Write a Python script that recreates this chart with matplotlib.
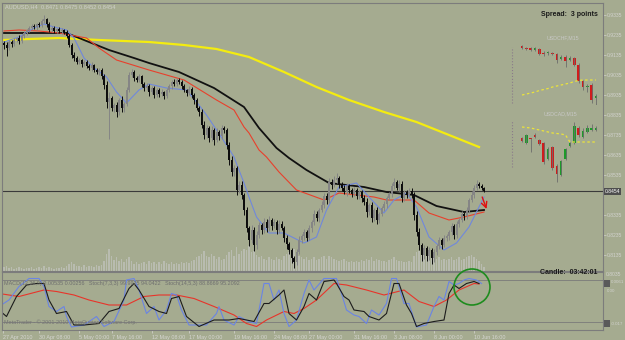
import numpy as np
import matplotlib.pyplot as plt
from matplotlib.patches import Ellipse, Rectangle

plt.rcParams["font.family"] = ["Liberation Sans", "DejaVu Sans"]

W, H = 625, 340
BG = "#a5ab90"

# ---- AUDUSD H4 candles (close per bar, wicks in pips) ----
first_open = 0.9195
closes = [
    0.9185, 0.9170, 0.9200, 0.9190, 0.9210, 0.9220, 0.9205, 0.9230, 0.9245, 0.9260,
    0.9270, 0.9280, 0.9275, 0.9290, 0.9285, 0.9305, 0.9315, 0.9290, 0.9260, 0.9270,
    0.9255, 0.9265, 0.9255, 0.9260, 0.9250, 0.9230, 0.9185, 0.9135, 0.9120, 0.9100,
    0.9110, 0.9090, 0.9100, 0.9080, 0.9070, 0.9085, 0.9060, 0.9050, 0.9060, 0.9030,
    0.8985, 0.8900, 0.8920, 0.8870, 0.8885, 0.8850, 0.8910, 0.8870, 0.8890, 0.8960,
    0.9035, 0.9050, 0.9020, 0.9010, 0.9030, 0.8990, 0.8970, 0.8980, 0.8950, 0.8970,
    0.8935, 0.8960, 0.8940, 0.8950, 0.8930, 0.8960, 0.8980, 0.9000, 0.8990, 0.9010,
    0.9000, 0.8980, 0.8960, 0.8945, 0.8965, 0.8935, 0.8910, 0.8870, 0.8850, 0.8785,
    0.8735, 0.8770, 0.8720, 0.8760, 0.8710, 0.8750, 0.8730, 0.8770, 0.8760, 0.8685,
    0.8610, 0.8550, 0.8570, 0.8460, 0.8485, 0.8435, 0.8360, 0.8270, 0.8210, 0.8260,
    0.8185, 0.8235, 0.8285, 0.8260, 0.8300, 0.8270, 0.8310, 0.8280, 0.8300, 0.8260,
    0.8290, 0.8270, 0.8220, 0.8190, 0.8160, 0.8120, 0.8100, 0.8150, 0.8210, 0.8230,
    0.8250, 0.8220, 0.8270, 0.8300, 0.8340, 0.8320, 0.8360, 0.8385, 0.8430, 0.8410,
    0.8500, 0.8485, 0.8510, 0.8520, 0.8490, 0.8470, 0.8450, 0.8480, 0.8460, 0.8440,
    0.8460, 0.8430, 0.8450, 0.8420, 0.8400, 0.8350, 0.8385, 0.8320, 0.8360, 0.8310,
    0.8340, 0.8370, 0.8390, 0.8420, 0.8440, 0.8480, 0.8500, 0.8470, 0.8490, 0.8420,
    0.8450, 0.8435, 0.8455, 0.8440, 0.8335, 0.8250, 0.8185, 0.8135, 0.8170, 0.8130,
    0.8160, 0.8120, 0.8150, 0.8180, 0.8210, 0.8185, 0.8220, 0.8230, 0.8250, 0.8280,
    0.8235, 0.8290, 0.8310, 0.8340, 0.8330, 0.8360, 0.8410, 0.8435, 0.8470, 0.8490,
    0.8480, 0.8471, 0.8454,
]
upper_wick = [
    10, 15, 8, 12, 10, 6, 14, 8, 10, 6,
    12, 8, 10, 6, 12, 10, 20, 6, 10, 8,
    12, 6, 10, 8, 6, 12, 8, 10, 14, 8,
    10, 6, 12, 8, 10, 14, 6, 10, 12, 8,
    10, 20, 30, 8, 12, 16, 10, 20, 8, 14,
    16, 14, 10, 8, 12, 6, 10, 14, 8, 12,
    10, 8, 12, 14, 6, 10, 12, 8, 14, 10,
    8, 12, 10, 6, 14, 8, 10, 12, 8, 14,
    20, 16, 10, 22, 12, 18, 10, 14, 12, 8,
    14, 20, 16, 12, 22, 18, 10, 16, 12, 24,
    14, 20, 16, 12, 18, 14, 22, 10, 16, 12,
    18, 14, 10, 16, 12, 8, 10, 14, 20, 12,
    14, 10, 16, 12, 20, 14, 10, 18, 16, 14,
    20, 14, 18, 24, 10, 12, 16, 14, 10, 12,
    14, 10, 12, 8, 14, 18, 10, 16, 12, 14,
    10, 12, 14, 8, 12, 16, 22, 10, 18, 14,
    12, 10, 14, 16, 10, 18, 20, 12, 14, 10,
    16, 12, 14, 10, 16, 12, 14, 10, 12, 16,
    10, 14, 12, 16, 10, 14, 12, 18, 16, 20,
    12, 10, 4,
]
lower_wick = [
    20, 40, 10, 14, 12, 10, 16, 8, 12, 10,
    8, 12, 10, 14, 8, 10, 12, 14, 10, 12,
    8, 12, 10, 14, 8, 10, 12, 14, 16, 10,
    12, 14, 10, 12, 8, 14, 10, 12, 14, 16,
    20, 30, 185, 16, 20, 24, 14, 18, 20, 12,
    10, 12, 14, 10, 12, 16, 14, 10, 18, 12,
    16, 12, 14, 10, 16, 12, 10, 14, 12, 10,
    12, 14, 10, 16, 12, 14, 18, 12, 20, 16,
    22, 14, 20, 16, 24, 12, 18, 14, 16, 20,
    24, 18, 22, 26, 16, 20, 24, 18, 30, 16,
    28, 18, 14, 20, 16, 22, 14, 18, 12, 20,
    16, 12, 20, 24, 18, 26, 30, 14, 12, 16,
    18, 14, 12, 20, 16, 14, 18, 12, 14, 20,
    16, 18, 12, 14, 20, 16, 12, 18, 14, 16,
    12, 16, 14, 18, 16, 24, 14, 20, 16, 22,
    14, 12, 16, 18, 12, 14, 16, 12, 14, 22,
    16, 14, 12, 18, 24, 22, 26, 30, 18, 24,
    20, 28, 18, 16, 14, 20, 12, 16, 18, 14,
    20, 14, 16, 12, 18, 14, 16, 12, 14, 10,
    12, 10, 2,
]
volume = [
    15, 20, 12, 18, 10, 14, 16, 12, 10, 14,
    12, 18, 10, 14, 16, 12, 20, 14, 18, 12,
    10, 14, 12, 16, 14, 20, 30, 35, 28, 22,
    20, 18, 24, 16, 20, 22, 18, 26, 20, 24,
    40, 70, 90, 60, 45, 55, 40, 50, 35, 50,
    55, 40, 30, 35, 28, 32, 36, 30, 40, 34,
    38, 30, 35, 28, 40, 32, 30, 36, 28, 34,
    30, 35, 32, 38, 34, 40, 45, 55, 60, 70,
    80, 60, 55, 70, 60, 50, 55, 45, 50, 65,
    75, 85, 60, 95, 70, 80, 90, 85, 100, 75,
    80, 65, 55, 60, 50, 45, 55, 50, 45, 55,
    50, 45, 60, 70, 75, 80, 90, 65, 60, 55,
    50, 55, 45, 50, 55, 45, 50, 55, 60, 50,
    60, 55, 50, 45, 40, 45, 50, 40, 35, 40,
    35, 40, 38, 45, 40, 50, 45, 55, 40, 50,
    45, 40, 42, 38, 45, 50, 55, 45, 40, 42,
    38, 35, 40, 36, 60, 75, 80, 90, 70, 65,
    60, 70, 55, 50, 55, 45, 50, 45, 50, 55,
    45, 50, 55, 45, 50, 55, 60, 65, 55, 50,
    40, 30, 15,
]

# ---- moving averages (bar index, price) ----
blue_ma_idx = [0, 6, 12, 16, 20, 25, 28, 32, 36, 41, 45, 49, 54, 58, 65, 73, 78, 81, 85, 89,
               92, 96, 98, 101, 106, 112, 120, 125, 129, 134, 141, 146, 152, 156, 161, 165,
               170, 176, 181, 186, 192]
blue_ma_val = [0.9200, 0.9225, 0.9270, 0.9290, 0.9275, 0.9260, 0.9220, 0.9120, 0.9070, 0.9025,
               0.8950, 0.8895, 0.8960, 0.8990, 0.8970, 0.8960, 0.8885, 0.8835, 0.8760, 0.8685,
               0.8625, 0.8495, 0.8425, 0.8325, 0.8245, 0.8245, 0.8195, 0.8225, 0.8360, 0.8475,
               0.8495, 0.8425, 0.8345, 0.8410, 0.8445, 0.8375, 0.8225, 0.8160, 0.8195, 0.8275,
               0.8425]
red_ma_idx = [0, 6, 14, 22, 33, 38, 45, 58, 72, 85, 92, 96, 98, 102, 105, 110, 117, 128, 134,
              148, 153, 164, 170, 178, 184, 192]
red_ma_val = [0.9255, 0.9260, 0.9255, 0.9245, 0.9220, 0.9170, 0.9110, 0.9060, 0.9010, 0.8910,
              0.8860, 0.8775, 0.8745, 0.8660, 0.8625, 0.8550, 0.8460, 0.8410, 0.8445, 0.8425,
              0.8410, 0.8410, 0.8345, 0.8310, 0.8325, 0.8350]
black_ma_idx = [0, 14, 25, 34, 42, 52, 58, 70, 84, 96, 102, 109, 114, 121, 130, 144, 153, 164,
                173, 184, 192]
black_ma_val = [0.9245, 0.9245, 0.9245, 0.9200, 0.9160, 0.9120, 0.9095, 0.9050, 0.8970, 0.8875,
                0.8770, 0.8670, 0.8620, 0.8560, 0.8495, 0.8475, 0.8450, 0.8435, 0.8380, 0.8350,
                0.8360]
yellow_ma_idx = [0, 10, 22, 38, 58, 72, 85, 98, 112, 125, 138, 152, 165, 178, 190]
yellow_ma_val = [0.9210, 0.9215, 0.9220, 0.9210, 0.9200, 0.9185, 0.9165, 0.9125, 0.9050, 0.8975,
                 0.8910, 0.8850, 0.8800, 0.8735, 0.8675]

price_ticks = [0.9335, 0.9235, 0.9135, 0.9035, 0.8935, 0.8835, 0.8735, 0.8635, 0.8535,
               0.8335, 0.8235, 0.8135]

# ---- lower panel oscillators ----
fast_idx = [-2, 2, 6, 10, 14, 16, 18, 21, 24, 25, 27, 32, 37, 40, 44, 48, 49, 52, 54, 57,
            60, 62, 65, 67, 69, 71, 74, 81, 85, 86, 88, 92, 94, 98, 101, 104, 106, 108, 110, 112,
            114, 117, 120, 122, 124, 128, 133, 135, 137, 140, 142, 145, 147, 150, 153, 155, 157,
            160, 162, 165, 169, 172, 174, 176, 178, 180, 182, 184, 186, 189, 191]
fast_val = [42, 55, 82, 98, 98, 82, 42, 32, 42, 22, 1, 5, 22, 2, 12, 55, 95, 98, 75, 28,
            42, 15, 35, 68, 65, 35, 5, 5, 28, 42, 15, 5, 22, 12, 8, 88, 88, 55, 75, 28,
            2, 15, 68, 95, 75, 98, 98, 68, 35, 25, 22, 8, 35, 25, 48, 98, 98, 48, 48, 1,
            5, 42, 62, 55, 92, 85, 88, 95, 98, 95, 88]
slow_idx = [-2, 1, 5, 9, 13, 16, 18, 21, 25, 28, 32, 38, 42, 46, 50, 52, 54, 58, 62, 65,
            67, 70, 73, 78, 84, 90, 94, 100, 104, 106, 110, 112, 114, 117, 120, 122, 125, 128,
            132, 133, 136, 138, 140, 144, 146, 150, 153, 156, 158, 161, 163, 165, 168, 172, 176,
            178, 180, 182, 185, 188, 190]
slow_val = [35, 22, 62, 85, 88, 88, 55, 28, 32, 5, 5, 8, 32, 38, 78, 88, 75, 42, 32, 28,
            58, 62, 22, 2, 15, 15, 18, 12, 48, 48, 65, 75, 28, 15, 42, 68, 55, 92, 95, 88,
            62, 55, 35, 32, 22, 15, 28, 88, 88, 45, 28, 2, 8, 12, 15, 68, 85, 78, 88, 92, 88]
osc_red_idx = [-2, 6, 16, 21, 28, 34, 42, 49, 56, 62, 69, 76, 84, 92, 97, 101, 105, 112, 116,
               120, 125, 132, 137, 145, 152, 160, 166, 172, 177, 182, 188, 190]
osc_red_val = [68, 62, 75, 72, 65, 55, 45, 45, 62, 65, 65, 58, 42, 25, 8, 2, 15, 32, 28,
               38, 55, 88, 85, 75, 65, 75, 52, 42, 55, 75, 88, 87]

date_pos = [-0.4, 14, 30, 43, 59, 74, 92, 108, 122, 140, 156, 172, 188]
date_labels = ["27 Apr 2010", "30 Apr 08:00", "5 May 00:00", "7 May 16:00", "12 May 08:00",
               "17 May 00:00", "19 May 16:00", "24 May 08:00", "27 May 00:00", "31 May 16:00",
               "3 Jun 08:00", "8 Jun 00:00", "10 Jun 16:00"]

# ---- mini charts on the right (M15, own units) ----
m1_open = [154, 152, 152, 150, 151, 147, 147, 147, 146, 141, 143, 140, 142, 135, 119, 113, 115, 102]
m1_close = [152, 151, 150, 152, 146, 146, 147, 146, 140, 143, 139, 142, 135, 119, 113, 114, 100, 104]
m1_high = [155, 153, 153, 153, 152, 149, 149, 148, 147, 145, 145, 144, 143, 137, 120, 116, 117, 106]
m1_low = [151, 150, 149, 149, 145, 144, 145, 145, 137, 140, 133, 139, 134, 117, 110, 108, 97, 95]
m1_ma = [105, 106, 107, 108, 109.5, 110.5, 111.5, 113, 114, 115, 116, 117, 118.5, 119.5, 120, 120, 120, 120]
m2_open = [62, 57, 62, 65, 60, 57, 41, 53, 34, 25, 41, 54, 57, 72, 63, 68, 70, 70]
m2_close = [59, 65, 61, 63, 56, 38, 51, 32, 26, 39, 51, 57, 74, 65, 69, 72, 72, 72]
m2_high = [63, 66, 62, 67, 61, 58, 53, 54, 36, 40, 52, 58, 78, 74, 72, 75, 76, 74]
m2_low = [58, 56, 48, 62, 55, 36, 40, 30, 18, 24, 40, 53, 56, 63, 62, 67, 69, 69]
m2_ma = [73, 72.5, 72, 71, 70, 69, 68, 67, 66.5, 66, 65, 58, 58, 58, 58, 58, 58, 58]


def rect(x0, y0, x1, y1):
    return [x0 / W, 1 - y1 / H, (x1 - x0) / W, (y1 - y0) / H]


def ftext(x, y, s, **kw):
    fig.text(x / W, 1 - y / H, s, **kw)


fig = plt.figure(figsize=(W / 100, H / 100), dpi=100, facecolor=BG)

n = len(closes)
idx = np.arange(n)
c = np.array(closes)
o = np.array([first_open] + closes[:-1])
hi = np.maximum(o, c) + np.array(upper_wick) / 10000
lo = np.minimum(o, c) - np.array(lower_wick) / 10000
bull = c >= o

# volume underneath
ax_vol = fig.add_axes(rect(2, 3, 603, 271))
ax_vol.bar(idx, volume, width=0.6, color="#b9bcb0", lw=0)
ax_vol.set_ylim(0, 1072)
ax_vol.set_xlim(-0.8, 239.6)
ax_vol.axis("off")

ax = fig.add_axes(rect(2, 3, 603, 271))
ax.patch.set_visible(False)
ax.set_xlim(-0.8, 239.6)
ax.set_ylim(0.8055, 0.9395)

ax.plot(yellow_ma_idx, yellow_ma_val, color="#f4ec10", lw=1.6, zorder=2)
ax.plot(black_ma_idx, black_ma_val, color="#111111", lw=1.3, zorder=2)
ax.plot(red_ma_idx, red_ma_val, color="#e8402c", lw=0.8, zorder=2)
ax.plot(blue_ma_idx, blue_ma_val, color="#7088dc", lw=0.8, zorder=2)

cols = np.where(bull, "#858585", "#0c0c0c")
ax.vlines(idx, lo, hi, colors=cols, lw=0.7, zorder=3)
ax.bar(idx, np.maximum(np.abs(c - o), 0.0002), bottom=np.minimum(o, c), width=0.75,
       color=cols, lw=0, zorder=3)

ax.axhline(c[-1], color="#3a3a3a", lw=0.8, zorder=1)
ax.annotate("", xy=(193.4, 0.8352), xytext=(190.9, 0.8438),
            arrowprops=dict(arrowstyle="->", color="#e01010", lw=1.0))

ax.set_xticks([])
ax.yaxis.tick_right()
ax.set_yticks(price_ticks)
ax.set_yticklabels([f"{p:.4f}" for p in price_ticks])
ax.tick_params(axis="y", length=2, pad=1, labelsize=3.6, colors="#d2d2ce", width=0.5)
for s in ax.spines.values():
    s.set_color("#7c7c7c")
    s.set_linewidth(0.8)
ax.text(1.003, c[-1], f"{c[-1]:.4f}", transform=ax.get_yaxis_transform(), fontsize=3.6,
        color="white", va="center", ha="left",
        bbox=dict(boxstyle="square,pad=0.2", fc="#4e4e4e", ec="none"))

# lower indicator panel
ax2 = fig.add_axes(rect(2, 272, 603, 330))
ax2.set_facecolor(BG)
ax2.set_xlim(-0.8, 239.6)
ax2.set_ylim(-5, 111)
ax2.axhline(96, color="#7a7a7a", lw=0.6)
ax2.axhline(11, color="#7a7a7a", lw=0.6)
ax2.plot(osc_red_idx, osc_red_val, color="#e8342a", lw=0.8)
ax2.plot(fast_idx, fast_val, color="#6a84e4", lw=0.8)
ax2.plot(slow_idx, slow_val, color="#1c1c1c", lw=0.8)
ax2.set_yticks([])
ax2.set_xticks(date_pos)
ax2.set_xticklabels(date_labels, ha="left")
ax2.tick_params(axis="x", length=2, pad=1.5, labelsize=3.9, colors="#d6d6d2", width=0.5)
for s in ax2.spines.values():
    s.set_color("#7c7c7c")
    s.set_linewidth(0.8)


def draw_mini(box, mo, mc, mh, ml, mma, ylim, vline):
    am = fig.add_axes(rect(*box))
    am.set_xlim(-3.22, 17.92)
    am.set_ylim(*ylim)
    am.axis("off")
    k = np.arange(len(mo))
    up = np.array(mc) >= np.array(mo)
    mcols = np.where(up, "#1e9a2a", "#d01c1c")
    am.vlines([-2.3], *vline, colors="#8a7a8a", lw=0.8, linestyles=":")
    am.vlines(k, ml, mh, colors="#6c6c6c", lw=0.6)
    am.bar(k, np.maximum(np.abs(np.array(mc) - np.array(mo)), 0.6),
           bottom=np.minimum(mo, mc), width=0.6, color=mcols, lw=0)
    am.plot(k, mma, color="#ece43a", lw=0.9, ls=(0, (2, 2)))


draw_mini((508, 40, 600, 105), m1_open, m1_close, m1_high, m1_low, m1_ma, (95, 160), (97, 153))
draw_mini((508, 115, 600, 185), m2_open, m2_close, m2_high, m2_low, m2_ma, (15, 85), (33, 80))

ftext(563, 38, "USDCHF,M15", fontsize=3.8, color="#c8c8c6", ha="center", va="center")
ftext(560, 114, "USDCAD,M15", fontsize=3.8, color="#c8c8c6", ha="center", va="center")

# texts
ftext(5, 7, f"AUDUSD,H4  {o[-1]:.4f} {hi[-1]:.4f} {lo[-1]:.4f} {c[-1]:.4f}",
      fontsize=4.1, color="#d0d0cc", va="center")
ftext(598, 15, "Spread:  3 points", fontsize=5, weight="bold", color="#1a1a1a",
      ha="right", va="center")
ftext(597, 273, "Candle:  03:42:01", fontsize=5, weight="bold", color="#1a1a1a",
      ha="right", va="center")
ftext(4, 283, "MACD(12,26,9) 0.00535 0.00256   Stoch(7,3,3) 99.9925 94.0422   "
      "Stoch(14,5,3) 88.8669 95.2092", fontsize=3.9, color="#6e6e6e", va="center")
ftext(4, 322, "MetaTrader - \u00a9 2001-2010 MetaQuotes Software Corp.", fontsize=3.9,
      color="#747474", va="center")
ftext(606, 275, "0.8035", fontsize=3.6, color="#d2d2ce", va="center")
ftext(611, 282, "0.0061", fontsize=3.2, color="#d2d2ce", va="center")
ftext(607, 291, "0.00", fontsize=3.2, color="#d2d2ce", va="center")
ftext(611, 324, "-0.017", fontsize=3.2, color="#d2d2ce", va="center")
fig.add_artist(Rectangle((604 / W, 1 - 287 / H), 6 / W, 7 / H, transform=fig.transFigure,
                         fc="#5a5a5a", ec="none"))
fig.add_artist(Rectangle((604 / W, 1 - 327 / H), 6 / W, 7 / H, transform=fig.transFigure,
                         fc="#5a5a5a", ec="none"))

# green circle around the indicator crossing
fig.add_artist(Ellipse((472 / W, 1 - 287 / H), 36 / W, 36 / H, transform=fig.transFigure,
                       fill=False, ec="#1e8c1e", lw=1.2))

fig.savefig("out.png", dpi=100, facecolor=BG)
